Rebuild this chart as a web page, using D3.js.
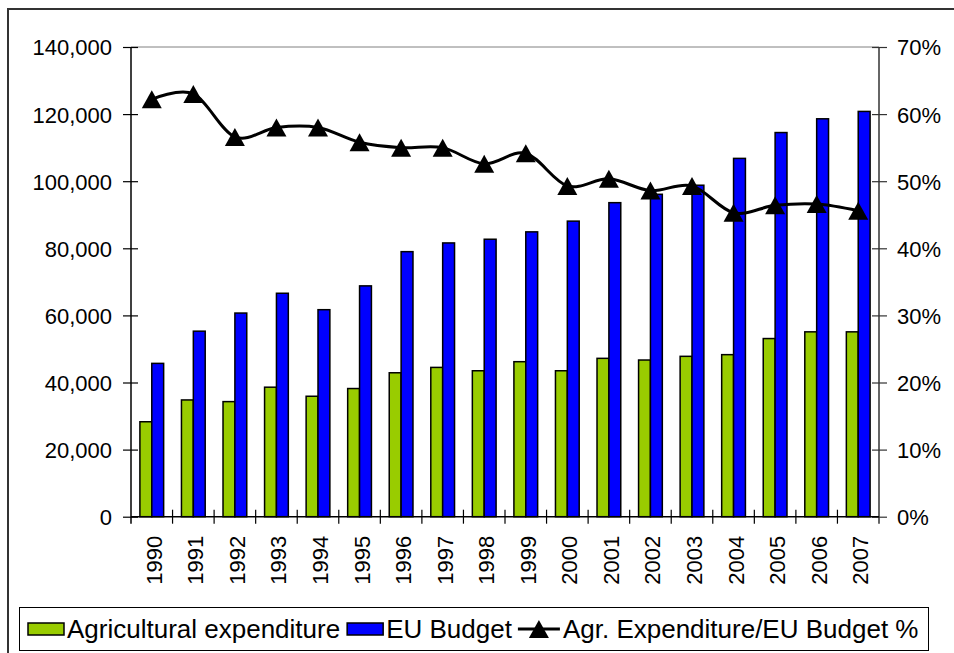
<!DOCTYPE html>
<html>
<head>
<meta charset="utf-8">
<script src="https://cdn.jsdelivr.net/npm/d3@7"></script>
<style>
body{margin:0;background:#fff;}
svg text{font-family:"Liberation Sans",Arial,sans-serif;fill:#000;}
</style>
</head>
<body>
<div id="chart"></div>
<script>
// data
var years=["1990","1991","1992","1993","1994","1995","1996","1997","1998","1999","2000","2001","2002","2003","2004","2005","2006","2007"];
var agrExpenditure=[28300,34800,34300,38600,35900,38200,42900,44500,43500,46200,43500,47200,46700,47800,48300,53100,55100,55100];
var euBudget=[45700,55300,60700,66600,61700,68800,79000,81600,82700,84900,88100,93600,96100,98800,106800,114500,118600,120800];
var agrShare=[0.622,0.630,0.566,0.580,0.580,0.558,0.550,0.550,0.526,0.5415,0.493,0.5035,0.486,0.493,0.453,0.464,0.466,0.456];
var leftTicks=[0,20000,40000,60000,80000,100000,120000,140000];
var rightTicks=[0,0.1,0.2,0.3,0.4,0.5,0.6,0.7];
var seriesNames=["Agricultural expenditure","EU Budget","Agr. Expenditure/EU Budget %"];
var colors=["#99cc00","#0000ff","#000"];

var W=954,H=653;
var x0=131,x1=879,yTop=47,yBot=516.7;

var svg=d3.select("#chart").append("svg")
	.attr("width",W)
	.attr("height",H);

// outer chart frame (only left/top show in the picture)
svg.append("rect")
	.attr("x",8).attr("y",9)
	.attr("width",W).attr("height",H)
	.attr("fill","none")
	.attr("stroke","#333")
	.attr("stroke-width",2);

var x=d3.scaleBand().domain(years).range([x0,x1]).paddingInner(0).paddingOuter(0);
var yL=d3.scaleLinear().domain([0,140000]).range([yBot,yTop]);
var yR=d3.scaleLinear().domain([0,0.7]).range([yBot,yTop]);

var cw=x.bandwidth();
var bw=cw/3.5; // excel gap width 150%
var off=(cw-2*bw)/2;

// plot area top border
svg.append("line")
	.attr("x1",x0).attr("x2",x1)
	.attr("y1",yTop).attr("y2",yTop)
	.attr("stroke","#808080").attr("stroke-width",1);

// bars
var g=svg.append("g");
g.selectAll("rect.agr")
	.data(agrExpenditure)
	.enter().append("rect")
	.attr("class","agr")
	.attr("x",function(d,i){return x(years[i])+off;})
	.attr("y",function(d){return yL(d);})
	.attr("width",bw)
	.attr("height",function(d){return yBot-yL(d);})
	.attr("fill",colors[0])
	.attr("stroke","#000").attr("stroke-width",1.5);

g.selectAll("rect.eu")
	.data(euBudget)
	.enter().append("rect")
	.attr("class","eu")
	.attr("x",function(d,i){return x(years[i])+off+bw;})
	.attr("y",function(d){return yL(d);})
	.attr("width",bw)
	.attr("height",function(d){return yBot-yL(d);})
	.attr("fill",colors[1])
	.attr("stroke","#000").attr("stroke-width",1.5);

// left axis
var axL=svg.append("g")
	.attr("transform","translate("+x0+",0)")
	.call(d3.axisLeft(yL).tickValues(leftTicks).tickFormat(d3.format(",")).tickSize(8).tickPadding(11));
axL.select(".domain").attr("stroke","#000").attr("stroke-width",1.5).attr("d","M0,"+(yBot+7)+"V"+yTop);
axL.selectAll(".tick line").attr("x1",7).attr("stroke","#000").attr("stroke-width",1.2);
axL.selectAll(".tick text").style("font-size","22px").attr("dy","0.36em");

// right axis
var axR=svg.append("g")
	.attr("transform","translate("+x1+",0)")
	.call(d3.axisRight(yR).tickValues(rightTicks).tickFormat(d3.format(".0%")).tickSize(8).tickPadding(10));
axR.select(".domain").attr("stroke","#333").attr("stroke-width",1.5).attr("d","M0,"+(yBot+7)+"V"+yTop);
axR.selectAll(".tick line").attr("x1",-7).attr("stroke","#333").attr("stroke-width",1.2);
axR.selectAll(".tick text").style("font-size","22px").attr("dy","0.36em");

// bottom axis
svg.append("line")
	.attr("x1",x0).attr("x2",x1)
	.attr("y1",yBot).attr("y2",yBot)
	.attr("stroke","#000").attr("stroke-width",1.5);
var bounds=years.map(function(d){return x(d);}).concat([x1]);
svg.selectAll("line.xt")
	.data(bounds.slice(1,-1))
	.enter().append("line")
	.attr("class","xt")
	.attr("x1",function(d){return d;}).attr("x2",function(d){return d;})
	.attr("y1",yBot-7).attr("y2",yBot+7)
	.attr("stroke","#000").attr("stroke-width",1.2);
svg.selectAll("text.year")
	.data(years)
	.enter().append("text")
	.attr("class","year")
	.attr("transform",function(d){return "translate("+(x(d)+cw/2+10)+","+(yBot+19)+") rotate(-90)";})
	.attr("text-anchor","end")
	.style("font-size","22px")
	.text(function(d){return d;});

// line series
var line=d3.line()
	.x(function(d,i){return x(years[i])+cw/2;})
	.y(function(d){return yR(d);})
	.curve(d3.curveCardinal.tension(0));
svg.append("path")
	.datum(agrShare)
	.attr("d",line)
	.attr("fill","none")
	.attr("stroke","#000")
	.attr("stroke-width",3);

var tri="M0,-9L10,9L-10,9Z";
svg.selectAll("path.mk")
	.data(agrShare)
	.enter().append("path")
	.attr("class","mk")
	.attr("d",tri)
	.attr("transform",function(d,i){return "translate("+(x(years[i])+cw/2)+","+yR(d)+")";})
	.attr("fill","#000");

// legend, laid out left to right from measured text widths
var lg=svg.append("g");
lg.append("rect")
	.attr("x",19.5).attr("y",607.5)
	.attr("width",909).attr("height",43)
	.attr("fill","#fff").attr("stroke","#000").attr("stroke-width",1);

var lx=28, ly=629;
var t;
lg.append("rect").attr("x",lx).attr("y",ly-6).attr("width",36).attr("height",12)
	.attr("fill",colors[0]).attr("stroke","#000").attr("stroke-width",1.5);
lx+=39;
t=lg.append("text").attr("x",lx).attr("y",ly+9).style("font-size","26px").text(seriesNames[0]);
lx+=t.node().getComputedTextLength()+7;

lg.append("rect").attr("x",lx).attr("y",ly-6).attr("width",36).attr("height",12)
	.attr("fill",colors[1]).attr("stroke","#000").attr("stroke-width",1.5);
lx+=39;
t=lg.append("text").attr("x",lx).attr("y",ly+9).style("font-size","26px").text(seriesNames[1]);
lx+=t.node().getComputedTextLength()+6;

lg.append("line").attr("x1",lx).attr("x2",lx+42).attr("y1",ly).attr("y2",ly)
	.attr("stroke","#000").attr("stroke-width",3);
lg.append("path").attr("d",tri).attr("transform","translate("+(lx+21)+","+ly+")").attr("fill","#000");
lx+=45;
lg.append("text").attr("x",lx).attr("y",ly+9).style("font-size","26px").text(seriesNames[2]);
</script>
</body>
</html>
